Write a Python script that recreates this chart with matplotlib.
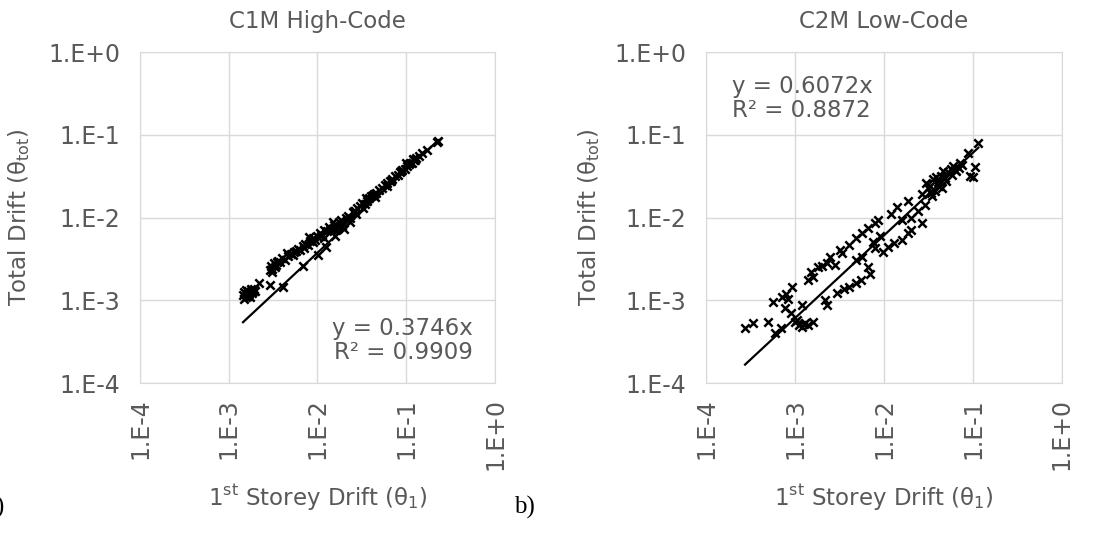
import matplotlib
matplotlib.use("Agg")
from matplotlib import pyplot as plt
import numpy as np

# C1M High-Code
x_c1m = [1.45e-3, 1.5e-3, 1.55e-3, 1.6e-3, 1.65e-3, 1.7e-3, 1.75e-3, 1.8e-3, 1.85e-3, 1.9e-3,
         1.95e-3, 2.0e-3, 1.5e-3, 1.65e-3, 1.58e-3, 1.72e-3,
         2.2e-3, 2.9e-3,
         4.1e-3, 6.9e-3, 1.02e-2, 1.24e-2, 1.58e-2, 2.0e-2,
         2.9e-3, 3.0e-3, 3.1e-3, 3.2e-3, 3.3e-3, 3.4e-3, 3.6e-3, 3.8e-3, 4.0e-3, 4.3e-3,
         4.6e-3, 5.0e-3, 5.3e-3, 5.7e-3, 6.0e-3, 6.4e-3, 6.8e-3, 7.3e-3, 7.8e-3, 8.3e-3,
         8.8e-3, 9.4e-3, 1.0e-2, 1.07e-2, 1.13e-2, 1.2e-2, 1.28e-2, 1.35e-2, 1.45e-2, 1.55e-2,
         1.65e-2, 1.75e-2, 1.85e-2, 1.95e-2, 2.1e-2, 2.2e-2, 2.35e-2, 2.5e-2, 2.65e-2, 2.8e-2,
         3.0e-2, 3.2e-2, 3.4e-2, 3.6e-2, 3.8e-2, 4.0e-2, 4.3e-2, 4.6e-2, 5.0e-2, 5.3e-2,
         5.7e-2, 6.1e-2, 6.5e-2, 7.0e-2, 7.5e-2, 8.0e-2, 8.5e-2, 9.0e-2, 9.6e-2, 0.102,
         0.108, 0.115, 0.122, 0.13, 0.14, 0.17, 0.23, 0.22,
         1.6e-2, 1.9e-2, 2.3e-2, 2.7e-2, 1.2e-2, 3.3e-2, 4.5e-2, 6.0e-2,
         4.5e-3, 8.0e-3, 1.5e-2, 3.5e-2, 0.1, 0.12,
         3.1e-3, 3.5e-3, 5.5e-3, 7.0e-3, 9.0e-3, 1.1e-2, 1.4e-2, 2.6e-2, 4.2e-2, 6.8e-2,
         8.8e-2, 0.11, 0.125, 0.15]
y_c1m = [1.15e-3, 1.25e-3, 1.1e-3, 1.2e-3, 1.3e-3, 1.18e-3, 1.25e-3, 1.35e-3, 1.22e-3, 1.3e-3,
         1.38e-3, 1.28e-3, 1.05e-3, 1.12e-3, 1.32e-3, 1.08e-3,
         1.6e-3, 1.55e-3,
         1.45e-3, 2.6e-3, 3.5e-3, 4.4e-3, 5.9e-3, 7.2e-3,
         2.3e-3, 2.6e-3, 2.4e-3, 2.8e-3, 2.5e-3, 2.7e-3, 3.0e-3, 2.9e-3, 3.2e-3, 3.1e-3,
         3.4e-3, 3.6e-3, 3.5e-3, 3.9e-3, 4.2e-3, 4.0e-3, 4.5e-3, 4.8e-3, 4.6e-3, 5.2e-3,
         5.6e-3, 5.4e-3, 6.0e-3, 6.5e-3, 6.2e-3, 7.0e-3, 6.8e-3, 7.6e-3, 7.3e-3, 8.2e-3,
         8.0e-3, 8.8e-3, 9.3e-3, 8.6e-3, 9.8e-3, 1.05e-2, 1.0e-2, 1.15e-2, 1.2e-2, 1.3e-2,
         1.38e-2, 1.5e-2, 1.45e-2, 1.6e-2, 1.7e-2, 1.8e-2, 1.9e-2, 2.0e-2, 2.15e-2, 2.3e-2,
         2.45e-2, 2.6e-2, 2.8e-2, 2.95e-2, 3.15e-2, 3.3e-2, 3.5e-2, 3.7e-2, 3.9e-2, 4.2e-2,
         4.4e-2, 4.6e-2, 4.9e-2, 5.2e-2, 5.5e-2, 6.6e-2, 8.4e-2, 8.2e-2,
         7.0e-3, 8.0e-3, 8.8e-3, 1.1e-2, 5.6e-3, 1.3e-2, 1.75e-2, 2.4e-2,
         3.7e-3, 5.8e-3, 8.8e-3, 1.7e-2, 4.5e-2, 5.1e-2,
         2.2e-3, 2.9e-3, 3.8e-3, 4.3e-3, 5.0e-3, 6.0e-3, 7.0e-3, 1.2e-2, 1.85e-2, 2.75e-2,
         3.6e-2, 4.5e-2, 5.0e-2, 6.0e-2]
slope_c1m = 0.3746
r2_c1m = 0.9909

# C2M Low-Code
x_c2m = [2.75e-4, 3.4e-4, 5.0e-4, 5.6e-4, 7.1e-4, 8.3e-4, 9.3e-4, 7.8e-4, 1.2e-3, 6.0e-4,
         7.0e-4, 1.0e-3, 1.1e-3, 1.2e-3, 1.3e-3, 1.4e-3, 1.05e-3, 1.25e-3, 1.6e-3,
         1.4e-3, 1.6e-3, 1.8e-3, 2.0e-3, 2.3e-3, 2.8e-3, 2.3e-3,
         3.0e-3, 3.6e-3, 4.0e-3, 4.8e-3, 5.5e-3, 6.6e-3, 6.9e-3,
         3.4e-3, 4.0e-3, 4.8e-3, 5.7e-3, 6.6e-3, 8.0e-3, 8.5e-3,
         4.8e-3, 5.7e-3, 8.0e-3,
         9.8e-3, 1.1e-2, 1.3e-2, 1.6e-2, 1.85e-2, 2.0e-2,
         1.2e-2, 1.4e-2, 1.85e-2, 1.6e-2,
         2.0e-2, 2.4e-2, 2.7e-2, 2.9e-2,
         2.7e-2, 3.1e-2, 3.5e-2, 3.7e-2,
         3.0e-2, 3.3e-2, 3.6e-2, 4.0e-2, 4.4e-2, 4.8e-2, 5.3e-2, 5.8e-2, 6.3e-2, 7.0e-2,
         7.6e-2, 3.4e-2, 4.2e-2, 5.0e-2, 5.6e-2, 6.5e-2, 7.2e-2, 3.8e-2, 4.6e-2, 6.0e-2,
         4.5e-2, 8.7e-2, 0.115, 0.105, 0.093, 0.1,
         8.0e-4, 9.0e-4, 1.5e-3, 2.5e-3, 3.2e-3, 7.5e-3, 9.0e-3, 2.2e-3]
y_c2m = [4.6e-4, 5.3e-4, 5.5e-4, 9.5e-4, 1.1e-3, 1.05e-3, 1.45e-3, 8.1e-4, 8.7e-4, 4.0e-4,
         4.6e-4, 5.5e-4, 5.0e-4, 4.8e-4, 5.3e-4, 5.0e-4, 5.8e-4, 5.2e-4, 5.5e-4,
         1.74e-3, 1.9e-3, 2.5e-3, 2.6e-3, 2.8e-3, 2.7e-3, 8.7e-4,
         1.23e-3, 1.35e-3, 1.45e-3, 1.6e-3, 1.74e-3, 2.5e-3, 2.1e-3,
         3.7e-3, 4.7e-3, 5.6e-3, 6.5e-3, 7.4e-3, 8.5e-3, 9.3e-3,
         3.1e-3, 3.3e-3, 4.3e-3,
         3.8e-3, 4.4e-3, 4.9e-3, 5.4e-3, 6.5e-3, 7.0e-3,
         1.1e-2, 1.35e-2, 1.6e-2, 9.3e-3,
         1.0e-2, 1.2e-2, 8.5e-3, 1.4e-2,
         1.95e-2, 2.3e-2, 1.8e-2, 2.1e-2,
         2.6e-2, 2.4e-2, 2.9e-2, 2.7e-2, 3.2e-2, 3.0e-2, 3.5e-2, 3.3e-2, 3.8e-2, 4.0e-2,
         4.3e-2, 2.0e-2, 2.4e-2, 2.8e-2, 3.9e-2, 3.6e-2, 4.6e-2, 3.1e-2, 3.6e-2, 4.2e-2,
         2.3e-2, 6.0e-2, 8.0e-2, 4.1e-2, 3.2e-2, 3.1e-2,
         1.2e-3, 7.0e-4, 2.2e-3, 3.3e-3, 4.0e-3, 5.0e-3, 6.0e-3, 1.0e-3]
slope_c2m = 0.6072
r2_c2m = 0.8872

grey = "#595959"
grid_col = "#d9d9d9"
ticks = [1e-4, 1e-3, 1e-2, 1e-1, 1e0]
tick_labels = ["1.E-4", "1.E-3", "1.E-2", "1.E-1", "1.E+0"]

fig = plt.figure(figsize=(11.1, 5.47), dpi=100)
ax1 = fig.add_axes([0.1261, 0.2998, 0.3198, 0.6051])
ax2 = fig.add_axes([0.636, 0.2998, 0.3207, 0.6051])


def panel(ax, xs, ys, slope, r2, title, txt_pos, txt_ha, ylab_x):
    xs = np.array(xs)
    ax.scatter(xs, ys, marker="x", s=36, color="black", linewidths=1.8, zorder=3)
    xl = np.array([xs.min(), xs.max()])
    ax.plot(xl, slope * xl, color="black", lw=1.6, zorder=4)
    ax.set_xscale("log")
    ax.set_yscale("log")
    ax.set_xlim(1e-4, 1)
    ax.set_ylim(1e-4, 1)
    ax.minorticks_off()
    ax.set_xticks(ticks)
    ax.set_xticklabels(tick_labels, rotation=90)
    ax.set_yticks(ticks)
    ax.set_yticklabels(tick_labels)
    ax.tick_params(axis="y", length=0, labelsize=17, colors=grey, pad=14)
    ax.tick_params(axis="x", length=0, labelsize=17, colors=grey, pad=11)
    ax.grid(True, color=grid_col, lw=1)
    ax.set_axisbelow(True)
    for s in ax.spines.values():
        s.set_color(grid_col)
    ax.set_title(title, color=grey, fontsize=16.5, pad=17)
    ax.set_xlabel("1$^{\\mathrm{st}}$ Storey Drift (θ$_{\\mathrm{1}}$)", color=grey, fontsize=16.5)
    ax.set_ylabel("Total Drift (θ$_{\\mathrm{tot}}$)", color=grey, fontsize=16.5)
    ax.xaxis.set_label_coords(0.5, -0.30)
    ax.yaxis.set_label_coords(ylab_x, 0.5)
    ax.text(txt_pos[0], txt_pos[1], "y = %.4fx\nR² = %.4f" % (slope, r2),
            transform=ax.transAxes, ha=txt_ha, va="top", color=grey,
            fontsize=16.5, linespacing=1.05)


panel(ax1, x_c1m, y_c1m, slope_c1m, r2_c1m, "C1M High-Code", (0.938, 0.20), "right", -0.304)
panel(ax2, x_c2m, y_c2m, slope_c2m, r2_c2m, "C2M Low-Code", (0.073, 0.93), "left", -0.292)

fig.text(0.004, 0.062, "a)", ha="right", va="baseline", family="Liberation Serif", fontsize=18)
fig.text(0.463, 0.062, "b)", ha="left", va="baseline", family="Liberation Serif", fontsize=18)

fig.savefig("out.png", dpi=100)
